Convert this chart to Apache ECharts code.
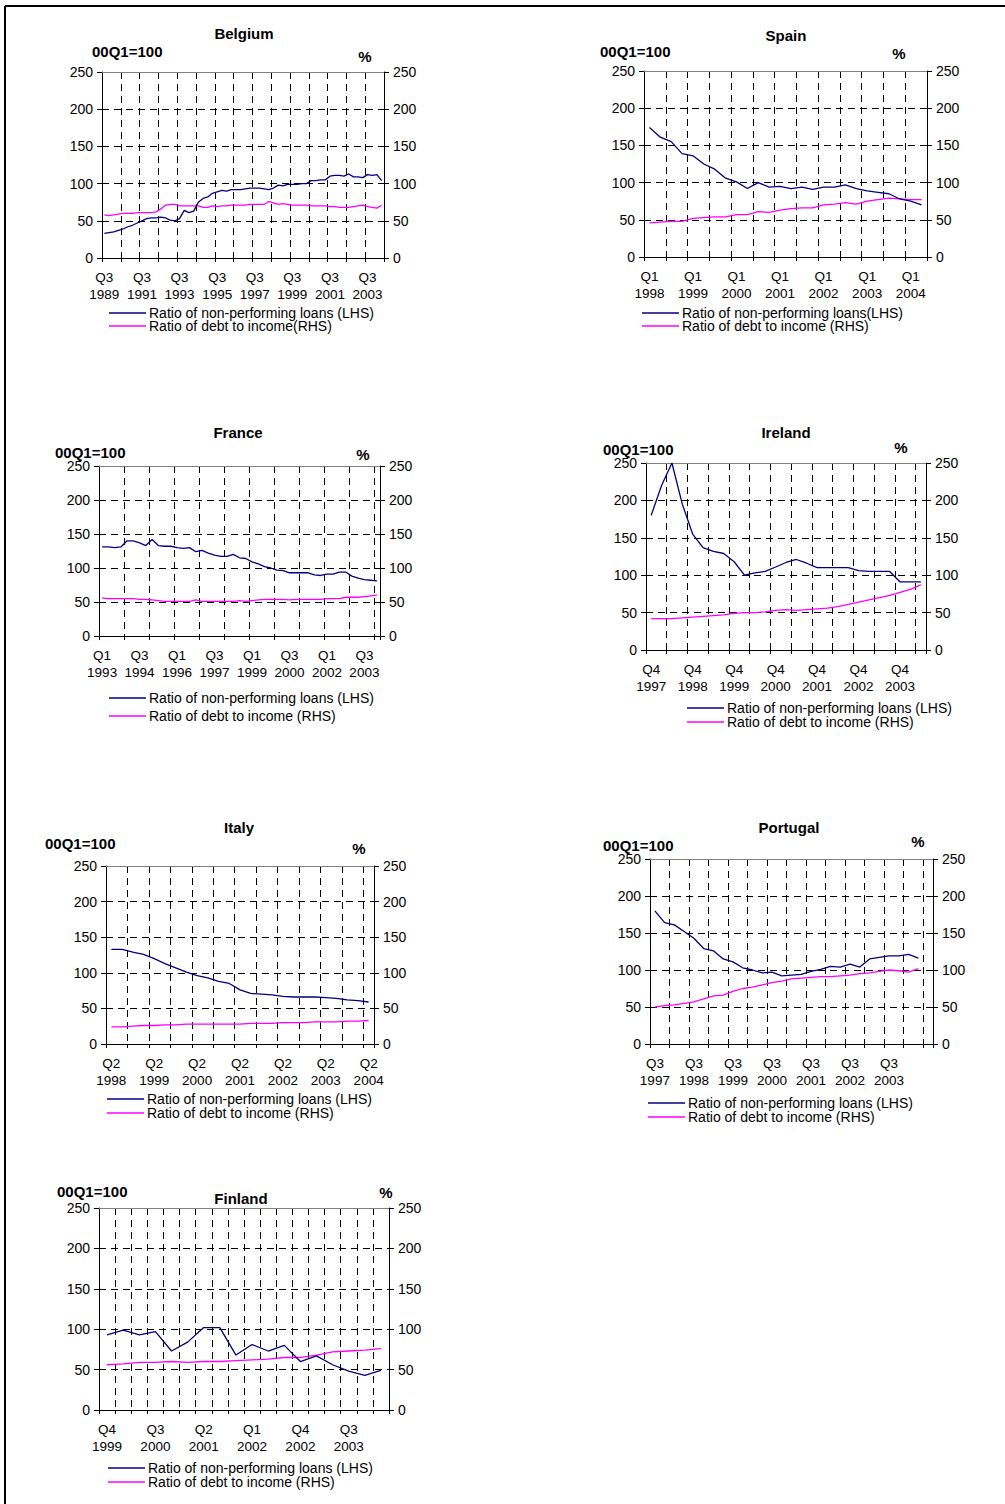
<!DOCTYPE html>
<html>
<head>
<meta charset="utf-8">
<title>Non-performing loans and household debt</title>
<script src="https://cdn.jsdelivr.net/npm/echarts@6/dist/echarts.min.js"></script>
<style>
  html, body { margin: 0; padding: 0; background: #fff; }
  #chart { width: 1005px; height: 1504px; }
</style>
</head>
<body>
<div id="chart"></div>
<script>
// ---- data: ratio of non-performing loans (00Q1=100, LHS) and debt to income (%, RHS)
const belgiumNpl = [33,34,35,37,39,42,44,47,50,53,54,54,55,54,51,50,53,64,61,63,
                    75,80,82,87,89,91,90,92,92,92,93,94,94,94,93,92,94,98,97,99,
                    99,99,100,100,104,104,105,105,110,111,111,110,113,109,109,108,112,111,112,104];
const belgiumDebt = [58,57,58,59,60,60,60,61,61,61,61,62,66,71,72,72,70,70,70,70,
                     70,68,68,70,69,70,70,71,71,71,71,72,72,72,72,76,74,72,73,72,
                     71,71,71,71,70,70,70,70,69,69,68,68,68,69,70,71,69,68,67,71];

const spainNpl = [174,161,155,139,136,125,118,106,101,92,100,94,95,92,94,91,94,94,97,92,89,87,85,78,75,70];
const spainDebt = [46,47,48,48,52,53,54,54,57,57,61,60,63,65,66,66,70,71,73,71,75,77,79,78,77,77];

const franceNpl = [131,131,130,131,140,140,137,133,142,133,132,132,130,129,130,124,126,122,119,117,
                   117,120,115,114,109,106,102,100,97,96,93,93,93,93,90,89,91,91,94,94,88,85,83,82,81];
const franceDebt = [56,55,55,55,55,55,54,54,53,52,51,51,51,51,51,53,51,51,51,51,
                    51,51,52,51,52,53,54,54,54,54,53,54,54,54,54,54,55,55,55,57,57,57,58,59,60];

const irelandNpl = [180,220,250,195,155,137,132,129,118,100,103,105,111,117,121,116,110,110,110,110,106,105,105,105,91,91,91];
const irelandDebt = [42,42,42,43,44,45,46,47,49,50,50,51,53,54,53,54,55,56,58,61,64,67,70,73,77,81,87];

const italyNpl = [133,133,129,126,120,113,107,101,96,93,88,85,76,71,70,69,67,66,66,66,65,64,62,61,59];
const italyDebt = [24,24,25,26,26,27,27,28,28,28,28,28,28,29,29,29,30,30,30,31,31,31,32,32,33];

const portugalNpl = [180,164,161,152,143,129,126,115,111,103,100,96,97,92,93,94,98,101,105,104,108,104,115,117,119,119,121,116];
const portugalDebt = [50,52,53,55,57,61,65,66,71,75,77,80,83,85,88,89,90,91,91,92,93,95,96,98,100,99,97,102];

const finlandNpl = [93,99,93,97,73,84,102,102,68,81,73,80,60,67,56,48,43,49];
const finlandDebt = [56,57,59,59,60,59,60,60,61,62,63,65,65,68,72,73,74,76];

// quarterly category labels, "Qn\nYYYY"
function quarters(year, q, n) {
  const out = [];
  for (let i = 0; i < n; i++) {
    out.push('Q' + q + '\n' + year);
    q++;
    if (q > 4) { q = 1; year++; }
  }
  return out;
}

const belgiumCats = quarters(1989, 3, 60);
const spainCats = quarters(1998, 1, 26);
const franceCats = quarters(1993, 1, 45);
const irelandCats = quarters(1997, 4, 27);
const italyCats = quarters(1998, 2, 25);
const portugalCats = quarters(1997, 3, 29);
const finlandCats = quarters(1999, 4, 18);

const NPL = 'Ratio of non-performing loans (LHS)';
const DEBT = 'Ratio of debt to income (RHS)';

// ---- panel definitions
const panels = [
  { title: 'Belgium', cats: belgiumCats, npl: belgiumNpl, debt: belgiumDebt,
    nplName: NPL, debtName: 'Ratio of debt to income(RHS)',
    labelEvery: 8, tickEvery: 4, labelMax: 999,
    grid: { left: 102, top: 72, width: 282, height: 186 },
    titlePos: [244, 33], basePos: [92, 51], pctPos: [365, 56],
    legend: { x: 109, y: 306, gap: -1 } },
  { title: 'Spain', cats: spainCats, npl: spainNpl, debt: spainDebt,
    nplName: 'Ratio of non-performing loans(LHS)', debtName: DEBT,
    labelEvery: 4, tickEvery: 2, labelMax: 999,
    grid: { left: 644, top: 71, width: 283, height: 186 },
    titlePos: [786, 35], basePos: [600, 51], pctPos: [899, 53],
    legend: { x: 642, y: 306, gap: -1 } },
  { title: 'France', cats: franceCats, npl: franceNpl, debt: franceDebt,
    nplName: NPL, debtName: DEBT,
    labelEvery: 6, tickEvery: 4, labelMax: 999,
    grid: { left: 99, top: 466, width: 281, height: 170 },
    titlePos: [238, 432], basePos: [55, 452], pctPos: [363, 454],
    legend: { x: 109, y: 691, gap: 4 } },
  { title: 'Ireland', cats: irelandCats, npl: irelandNpl, debt: irelandDebt,
    nplName: NPL, debtName: DEBT,
    labelEvery: 4, tickEvery: 2, labelMax: 999,
    grid: { left: 646, top: 463, width: 280, height: 187 },
    titlePos: [786, 432], basePos: [603, 449], pctPos: [901, 447],
    legend: { x: 687, y: 701, gap: 0 } },
  { title: 'Italy', cats: italyCats, npl: italyNpl, debt: italyDebt,
    nplName: NPL, debtName: DEBT,
    labelEvery: 4, tickEvery: 2, labelMax: 999,
    grid: { left: 106, top: 866, width: 268, height: 178 },
    titlePos: [239, 827], basePos: [45, 843], pctPos: [359, 848],
    legend: { x: 107, y: 1092, gap: 0 } },
  { title: 'Portugal', cats: portugalCats, npl: portugalNpl, debt: portugalDebt,
    nplName: NPL, debtName: DEBT,
    labelEvery: 4, tickEvery: 2, labelMax: 24,
    grid: { left: 650, top: 859, width: 283, height: 185 },
    titlePos: [789, 827], basePos: [603, 845], pctPos: [918, 841],
    legend: { x: 648, y: 1096, gap: 0 } },
  { title: 'Finland', cats: finlandCats, npl: finlandNpl, debt: finlandDebt,
    nplName: NPL, debtName: DEBT,
    labelEvery: 3, tickEvery: 1, labelMax: 999,
    grid: { left: 99, top: 1208, width: 290, height: 202 },
    titlePos: [241, 1198], basePos: [57, 1191], pctPos: [386, 1192],
    legend: { x: 108, y: 1461, gap: 0 } }
];

const FONT = '"Liberation Sans", Arial, Helvetica, sans-serif';
const NAVY = '#000080';
const MAGENTA = '#ff00ff';
const DASH = [7, 5];

const option = {
  animation: false,
  backgroundColor: '#fff',
  textStyle: { fontFamily: FONT },
  grid: [], xAxis: [], yAxis: [], series: [], legend: [], graphic: []
};

panels.forEach((p, gi) => {
  option.grid.push(Object.assign({ outerBoundsMode: 'none', containLabel: false }, p.grid));

  // bottom category axis with quarter labels and dashed vertical grid
  option.xAxis.push({
    type: 'category', gridIndex: gi, position: 'bottom', data: p.cats, boundaryGap: true,
    axisLine: { show: true, onZero: false, lineStyle: { color: '#000', width: 1 } },
    axisTick: { show: true, interval: p.tickEvery - 1, length: 4, inside: false,
                lineStyle: { color: '#000', width: 1 } },
    axisLabel: {
      show: true, margin: 11, color: '#000', fontFamily: FONT, fontSize: 13.5, lineHeight: 17,
      hideOverlap: false,
      interval: (idx) => idx % p.labelEvery === 0 && idx <= p.labelMax
    },
    splitLine: { show: true, interval: p.tickEvery - 1, showMinLine: false, showMaxLine: false,
                 lineStyle: { color: '#000', width: 1, type: DASH } }
  });
  // top edge of the plot area
  option.xAxis.push({
    type: 'category', gridIndex: gi, position: 'top', data: p.cats, boundaryGap: true,
    axisLine: { show: true, onZero: false, lineStyle: { color: '#808080', width: 1 } },
    axisTick: { show: false }, axisLabel: { show: false }, splitLine: { show: false }
  });

  const valueAxis = (pos) => ({
    type: 'value', gridIndex: gi, position: pos, min: 0, max: 250, interval: 50,
    axisLine: { show: true, onZero: false, lineStyle: { color: '#000', width: 1 } },
    axisTick: { show: true, length: 5, inside: false, lineStyle: { color: '#000', width: 1 } },
    axisLabel: { show: true, margin: 9, color: '#000', fontFamily: FONT, fontSize: 14 },
    splitLine: pos === 'left'
      ? { show: true, showMinLine: false, showMaxLine: false,
          lineStyle: { color: '#000', width: 1, type: DASH } }
      : { show: false }
  });
  option.yAxis.push(valueAxis('left'));
  option.yAxis.push(valueAxis('right'));

  option.series.push({
    name: p.nplName, type: 'line', xAxisIndex: gi * 2, yAxisIndex: gi * 2,
    data: p.npl, symbol: 'none', color: NAVY,
    lineStyle: { color: NAVY, width: 1.3 }, z: 3
  });
  option.series.push({
    name: p.debtName, type: 'line', xAxisIndex: gi * 2, yAxisIndex: gi * 2 + 1,
    data: p.debt, symbol: 'none', color: MAGENTA,
    lineStyle: { color: MAGENTA, width: 1.3 }, z: 2
  });

  option.legend.push({
    show: true, orient: 'vertical', left: p.legend.x, top: p.legend.y,
    padding: 0, itemGap: p.legend.gap, itemWidth: 37, itemHeight: 1.3,
    icon: 'rect', selectedMode: false,
    data: [p.nplName, p.debtName],
    textStyle: { color: '#000', fontFamily: FONT, fontSize: 14, lineHeight: 12, padding: [0, 0, 0, -2] }
  });

  const txt = (x, y, text, align) => ({
    type: 'text', x: x, y: y, silent: true,
    style: { text: text, fill: '#000', font: 'bold 15px ' + FONT,
             textAlign: align, textVerticalAlign: 'middle' }
  });
  option.graphic.push(txt(p.titlePos[0], p.titlePos[1], p.title, 'center'));
  option.graphic.push(txt(p.basePos[0], p.basePos[1], '00Q1=100', 'left'));
  option.graphic.push(txt(p.pctPos[0], p.pctPos[1], '%', 'center'));
});

// page frame
option.graphic.push({ type: 'line', silent: true,
  shape: { x1: 5, y1: 6, x2: 1005, y2: 6 }, style: { stroke: '#000', lineWidth: 2 } });
option.graphic.push({ type: 'line', silent: true,
  shape: { x1: 5, y1: 6, x2: 5, y2: 1504 }, style: { stroke: '#000', lineWidth: 2 } });

const chart = echarts.init(document.getElementById('chart'), null, { renderer: 'svg' });
chart.setOption(option);
</script>
</body>
</html>
